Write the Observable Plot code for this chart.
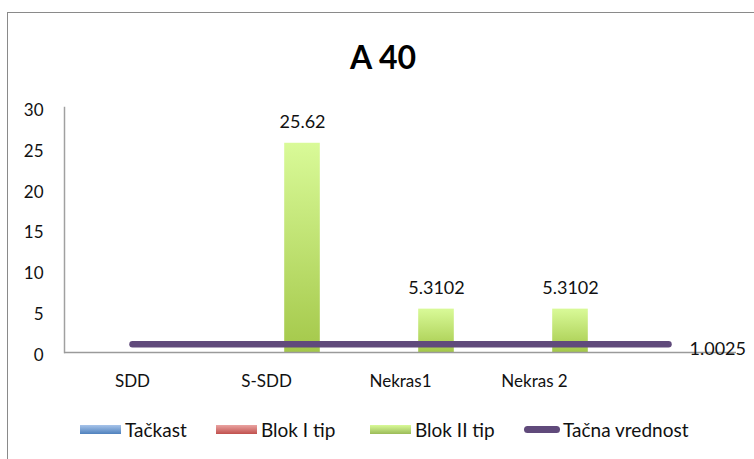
<!DOCTYPE html>
<html>
<head>
<meta charset="utf-8">
<script src="https://cdn.jsdelivr.net/npm/d3@7"></script>
<script src="https://cdn.jsdelivr.net/npm/@observablehq/plot@0.6"></script>
<style>
  html, body { margin: 0; padding: 0; background: #fff; }
  #wrap { position: relative; width: 754px; height: 459px; overflow: hidden; font-family: Lato, "Open Sans", sans-serif; }
  #border { position: absolute; left: 7px; top: 12px; width: 800px; height: 500px; border-left: 1.5px solid #8a8a8a; border-top: 1.5px solid #8a8a8a; }
  #title { position: absolute; top: 37px; left: 350px; font-size: 32px; font-weight: 700; color: #000; white-space: nowrap; }
  #chart { position: absolute; left: 0; top: 0; }
  #legend { position: absolute; top: 418px; left: 80px; font-size: 19px; color: #111; white-space: nowrap; }
  .item { position: absolute; top: 0; display: flex; align-items: center; height: 22px; }
  .sw { width: 41px; height: 9px; margin-right: 4px; }
  .ln { width: 36px; height: 7px; border-radius: 4px; margin-right: 3px; }
  svg text { font-weight: 400; }
</style>
</head>
<body>
<div id="wrap">
  <div id="border"></div>
  <div id="title">A 40</div>
  <div id="chart"></div>
  <div id="legend"></div>
</div>
<script>
// ---- data ----
const categories = ["SDD", "S-SDD", "Nekras1", "Nekras 2", ""];
const seriesNames = ["Tačkast", "Blok I tip", "Blok II tip"];
const tackast = [null, null, null, null];
const blokI = [null, null, null, null];
const blokII = [null, 25.62, 5.3102, 5.3102];
const tacnaVrednost = [1.0025, 1.0025, 1.0025, 1.0025, 1.0025];
const lineName = "Tačna vrednost";
const yTicks = [0, 5, 10, 15, 20, 25, 30];

const seriesColors = ["#4f81bd", "#c0504d", "#9bbb59"];
const gradIds = ["gBlue", "gRed", "gGreen"];
const lineColor = "#604a7b";

const seriesValues = [tackast, blokI, blokII];
const seriesData = seriesValues.map((vals, s) =>
  vals.map((v, i) => ({category: categories[i], value: v, series: seriesNames[s]})).filter(d => d.value != null)
);
const lineData = tacnaVrednost.map((v, i) => ({category: categories[i], value: v}));

const W = 754, H = 459, mL = 64, mR = 18, mT = 107, mB = 107;
const band = (W - mL - mR) / categories.length;
const barW = 36;
const inset = (band - barW) / 2;

const marks = [];
seriesData.forEach((data, s) => {
  marks.push(Plot.barY(data, {
    x: "category", y: "value", dx: (s - 1) * barW,
    insetLeft: inset, insetRight: inset,
    fill: `url(#${gradIds[s]})`,
    style: "filter: drop-shadow(1px 0px 1px rgba(0,0,0,0.25))"
  }));
  marks.push(Plot.text(data, {
    x: "category", y: "value", dx: (s - 1) * barW, dy: -21,
    text: d => String(d.value), fontSize: 18, fill: "#111"
  }));
});

const plot = Plot.plot({
  width: W, height: H,
  marginLeft: mL, marginRight: mR, marginTop: mT, marginBottom: mB,
  style: {fontFamily: "Lato, 'Open Sans', sans-serif", background: "transparent", overflow: "visible"},
  x: {type: "band", domain: categories, paddingInner: 0, paddingOuter: 0, label: null},
  y: {domain: [0, 30], label: null},
  marks: [
    Plot.axisY({ticks: yTicks, tickSize: 0, tickPadding: 21, fontSize: 17, fill: "#111", label: null, dy: 3}),
    Plot.axisX({tickSize: 0, tickPadding: 22, fontSize: 17, fill: "#111", label: null}),
    Plot.frame({anchor: "left", stroke: "#a0a0a0", strokeWidth: 1.5}),
    ...marks,
    Plot.ruleY([0], {stroke: "#9a9a9a", strokeWidth: 1.5}),
    Plot.lineY(lineData, {x: "category", y: "value", stroke: lineColor, strokeWidth: 6.5, strokeLinecap: "round"}),
    Plot.text(lineData.slice(-1), {x: "category", y: "value", text: d => String(d.value), dx: 21, dy: 5, textAnchor: "start", fontSize: 18, fill: "#111"})
  ]
});

// gradients
const grads = [
  ["gBlue", "#a7c4ea", "#4f81bd"],
  ["gRed", "#eaa4a2", "#c0504d"],
  ["gGreen", "#d9fa98", "#a4c84a"]
];
const defs = d3.select(plot).insert("defs", ":first-child");
grads.forEach(([id, top, bot]) => {
  const g = defs.append("linearGradient").attr("id", id).attr("x1", 0).attr("y1", 0).attr("x2", 0).attr("y2", 1);
  g.append("stop").attr("offset", "0%").attr("stop-color", top);
  g.append("stop").attr("offset", "100%").attr("stop-color", bot);
});
document.getElementById("chart").appendChild(plot);

// legend
const legend = document.getElementById("legend");
const lefts = [0, 136, 290, 444];
seriesNames.forEach((name, s) => {
  const it = document.createElement("div");
  it.className = "item";
  it.style.left = lefts[s] + "px";
  const sw = document.createElement("div");
  sw.className = "sw";
  sw.style.background = `linear-gradient(${grads[s][1]}, ${seriesColors[s]})`;
  it.appendChild(sw);
  it.appendChild(document.createTextNode(name));
  legend.appendChild(it);
});
const li = document.createElement("div");
li.className = "item";
li.style.left = lefts[3] + "px";
const ln = document.createElement("div");
ln.className = "ln";
ln.style.background = lineColor;
li.appendChild(ln);
li.appendChild(document.createTextNode(lineName));
legend.appendChild(li);
</script>
</body>
</html>
